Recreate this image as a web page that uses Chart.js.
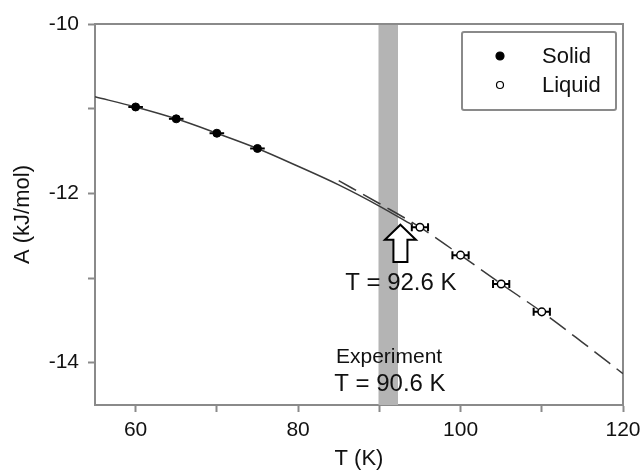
<!DOCTYPE html>
<html>
<head>
<meta charset="utf-8">
<script src="https://cdn.jsdelivr.net/npm/chart.js@4/dist/chart.umd.min.js"></script>
<style>
  html, body { margin: 0; padding: 0; background: #fff; }
  #wrap { width: 640px; height: 472px; }
</style>
</head>
<body>
<div id="wrap"><canvas id="myChart" width="640" height="472"></canvas></div>
<script>
// data
const solidT = [60, 65, 70, 75];
const solidA = [-10.98, -11.12, -11.29, -11.47];
const solidErr = [0.9, 0.9, 0.9, 0.9];

const liquidT = [95, 100, 105, 110];
const liquidA = [-12.40, -12.73, -13.07, -13.40];
const liquidErr = [1.0, 1.0, 1.0, 1.0];

const solidFitT = [55, 60, 65, 70, 75, 80, 85, 90, 94];
const solidFitA = [-10.86, -10.98, -11.12, -11.29, -11.47, -11.68, -11.90, -12.15, -12.37];

const liquidFitT = [85, 90, 95, 100, 105, 110, 115, 120];
const liquidFitA = [-11.85, -12.12, -12.40, -12.73, -13.07, -13.40, -13.76, -14.13];

const xTicks = [60, 80, 100, 120];
const yTicks = [-10, -12, -14];

const expBand = [89.9, 92.3];          // shaded experimental range
const arrowT = 92.6, arrowTip = -12.37, arrowBase = -12.81;

const FONT = "'Liberation Sans', Arial, sans-serif";
const AXIS = '#8a8a8a';

const pts = (xs, ys) => xs.map((v, i) => ({ x: v, y: ys[i] }));

const overlay = {
  id: 'overlay',
  beforeDatasetsDraw(chart) {
    const { ctx, chartArea: a, scales: { x, y } } = chart;
    ctx.save();
    // experiment band
    const b0 = x.getPixelForValue(expBand[0]), b1 = x.getPixelForValue(expBand[1]);
    ctx.fillStyle = '#b4b4b4';
    ctx.fillRect(b0, a.top, b1 - b0, a.bottom - a.top);

    // top / right frame
    ctx.strokeStyle = AXIS;
    ctx.lineWidth = 2;
    ctx.beginPath();
    ctx.moveTo(a.left, a.top);
    ctx.lineTo(a.right, a.top);
    ctx.lineTo(a.right, a.bottom);
    ctx.stroke();

    // horizontal error bars
    ctx.strokeStyle = '#000';
    ctx.lineWidth = 2;
    const bars = [[solidT, solidA, solidErr, false], [liquidT, liquidA, liquidErr, true]];
    bars.forEach(([ts, as, es, caps]) => {
      ts.forEach((t, i) => {
        const l = x.getPixelForValue(t - es[i]), r = x.getPixelForValue(t + es[i]);
        const py = y.getPixelForValue(as[i]);
        ctx.beginPath();
        ctx.moveTo(l, py); ctx.lineTo(r, py);
        if (caps) {
          ctx.moveTo(l, py - 4); ctx.lineTo(l, py + 4);
          ctx.moveTo(r, py - 4); ctx.lineTo(r, py + 4);
        }
        ctx.stroke();
      });
    });
    ctx.restore();
  },
  afterDraw(chart) {
    const { ctx, scales: { x, y } } = chart;
    ctx.save();
    // hollow arrow
    const ax = x.getPixelForValue(arrowT);
    const tip = y.getPixelForValue(arrowTip), base = y.getPixelForValue(arrowBase);
    const hh = 15, hw = 15.5, sw = 7;
    ctx.beginPath();
    ctx.moveTo(ax, tip);
    ctx.lineTo(ax + hw, tip + hh);
    ctx.lineTo(ax + sw, tip + hh);
    ctx.lineTo(ax + sw, base);
    ctx.lineTo(ax - sw, base);
    ctx.lineTo(ax - sw, tip + hh);
    ctx.lineTo(ax - hw, tip + hh);
    ctx.closePath();
    ctx.fillStyle = '#fff';
    ctx.fill();
    ctx.strokeStyle = '#000';
    ctx.lineWidth = 2;
    ctx.stroke();

    // annotations
    ctx.fillStyle = '#111';
    ctx.textAlign = 'center';
    ctx.textBaseline = 'middle';
    ctx.font = '24px ' + FONT;
    ctx.fillText('T = 92.6 K', x.getPixelForValue(92.65), y.getPixelForValue(-13.06));
    ctx.font = '21px ' + FONT;
    ctx.fillText('Experiment', x.getPixelForValue(91.2), y.getPixelForValue(-13.94));
    ctx.font = '24px ' + FONT;
    ctx.fillText('T = 90.6 K', x.getPixelForValue(91.3), y.getPixelForValue(-14.26));

    // legend box
    ctx.lineWidth = 2;
    ctx.strokeStyle = AXIS;
    ctx.beginPath();
    ctx.roundRect(462, 32, 154, 78, 2);
    ctx.fillStyle = '#fff';
    ctx.fill();
    ctx.stroke();
    ctx.font = '22px ' + FONT;
    ctx.textAlign = 'left';
    chart.data.datasets.slice(0, 2).forEach((ds, i) => {
      const cy = 56 + i * 29;
      ctx.beginPath();
      ctx.arc(500, cy, i === 0 ? 4 : 3.5, 0, Math.PI * 2);
      ctx.fillStyle = ds.backgroundColor;
      ctx.fill();
      ctx.lineWidth = 1.2;
      ctx.strokeStyle = ds.borderColor;
      ctx.stroke();
      ctx.fillStyle = '#111';
      ctx.fillText(ds.label, 542, cy + 1);
    });
    ctx.restore();
  }
};

const ctx = document.getElementById('myChart').getContext('2d');

new Chart(ctx, {
  type: 'scatter',
  data: {
    datasets: [{
      label: 'Solid',
      data: pts(solidT, solidA),
      backgroundColor: '#000',
      borderColor: '#000',
      pointRadius: 4,
      borderWidth: 1,
      showLine: false
    }, {
      label: 'Liquid',
      data: pts(liquidT, liquidA),
      backgroundColor: '#fff',
      borderColor: '#000',
      pointRadius: 3.8,
      borderWidth: 1.5,
      showLine: false
    }, {
      label: 'fit solid',
      data: pts(solidFitT, solidFitA),
      showLine: true,
      borderColor: '#3a3a3a',
      borderWidth: 1.5,
      pointRadius: 0,
      cubicInterpolationMode: 'monotone'
    }, {
      label: 'fit liquid',
      data: pts(liquidFitT, liquidFitA),
      showLine: true,
      borderColor: '#3a3a3a',
      borderWidth: 1.5,
      borderDash: [20, 8],
      pointRadius: 0,
      cubicInterpolationMode: 'monotone'
    }]
  },
  options: {
    responsive: false,
    animation: false,
    layout: { padding: { top: 24, right: 17, left: 0, bottom: 0 } },
    scales: {
      x: {
        type: 'linear',
        min: 55,
        max: 120,
        afterFit: s => { s.height = 67; s.paddingLeft = 0; s.paddingRight = 0; },
        grid: { drawOnChartArea: false, tickLength: 7, tickColor: AXIS, tickWidth: 2 },
        border: { color: AXIS, width: 2 },
        ticks: {
          stepSize: 10,
          includeBounds: false,
          autoSkip: false,
          maxRotation: 0,
          padding: 6,
          color: '#111',
          font: { family: FONT, size: 21 },
          callback: v => xTicks.includes(v) ? String(v) : ''
        },
        title: {
          display: true,
          text: 'T (K)',
          color: '#111',
          font: { family: FONT, size: 22 },
          padding: { top: 0, bottom: 0 }
        }
      },
      y: {
        min: -14.5,
        max: -10,
        afterFit: s => { s.width = 95; s.paddingTop = 0; s.paddingBottom = 0; },
        grid: { drawOnChartArea: false, tickLength: 7, tickColor: AXIS, tickWidth: 2 },
        border: { color: AXIS, width: 2 },
        ticks: {
          stepSize: 1,
          includeBounds: false,
          autoSkip: false,
          padding: 9,
          color: '#111',
          font: { family: FONT, size: 21 },
          callback: v => yTicks.includes(v) ? String(v) : ''
        },
        title: {
          display: true,
          text: 'A (kJ/mol)',
          color: '#111',
          font: { family: FONT, size: 22 },
          padding: { top: 10, bottom: 10 }
        }
      }
    },
    plugins: {
      legend: { display: false },
      tooltip: { enabled: false }
    }
  },
  plugins: [overlay]
});
</script>
</body>
</html>
